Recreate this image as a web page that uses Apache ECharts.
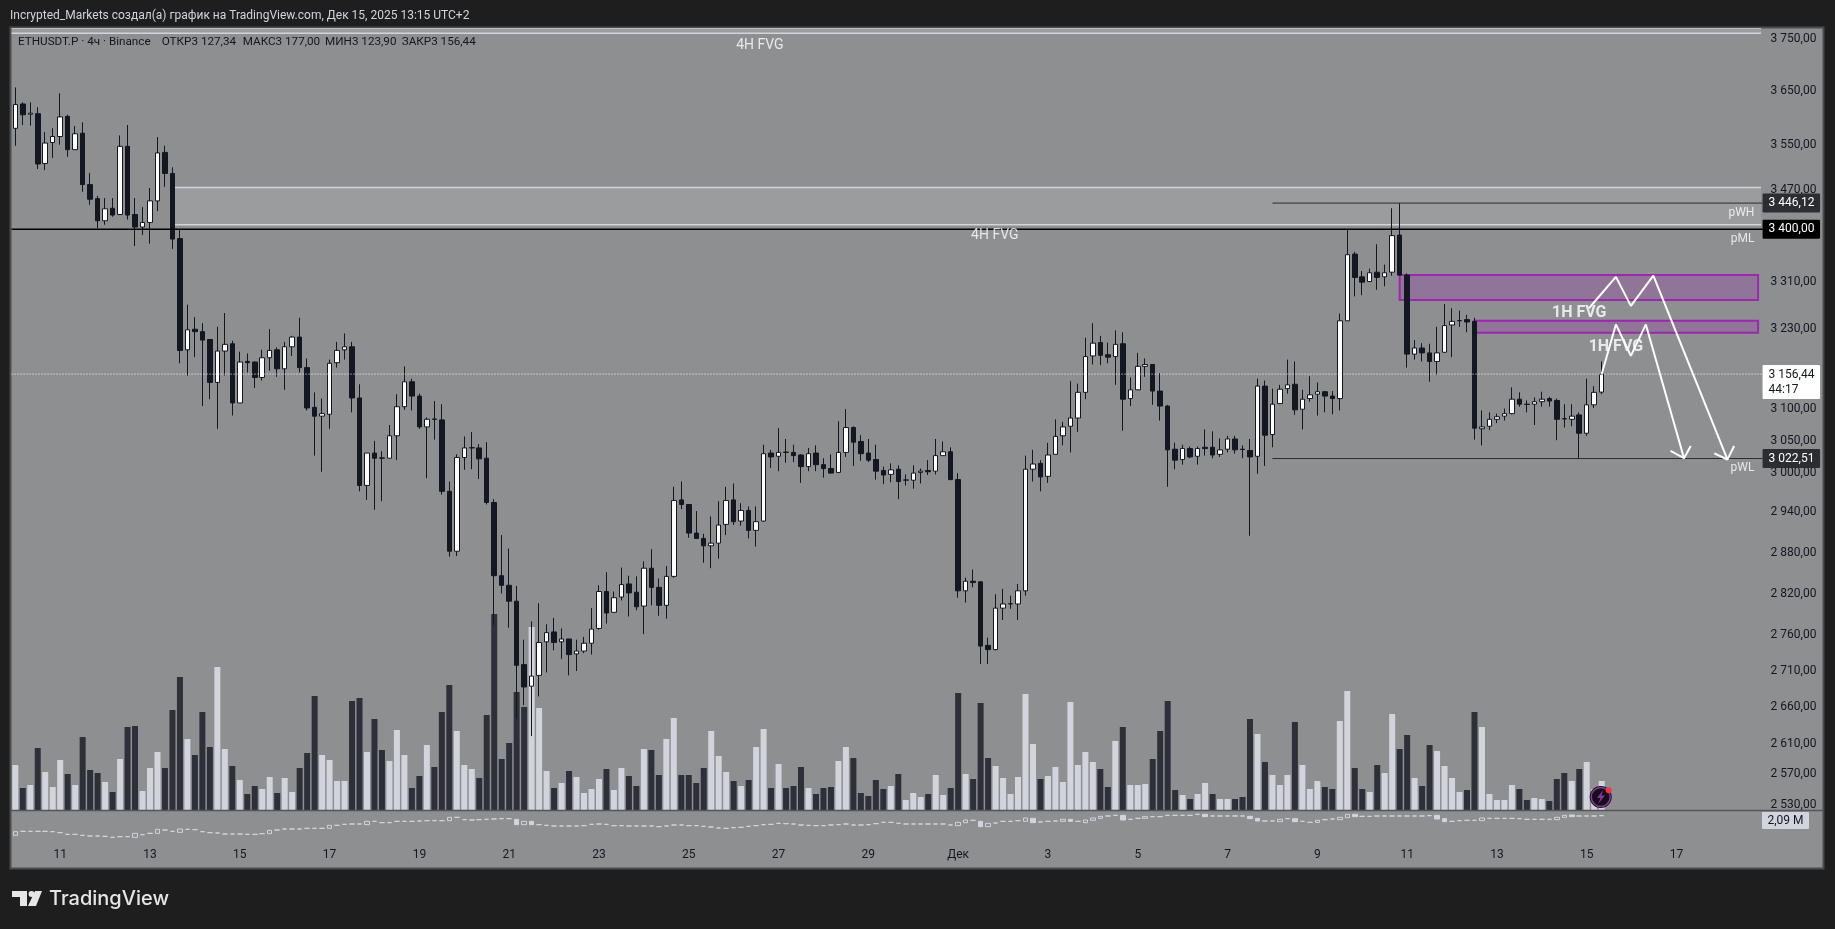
<!DOCTYPE html>
<html><head><meta charset="utf-8">
<style>html,body{margin:0;padding:0;background:#1e1e1e}#c{width:1835px;height:929px}</style>
<script src="https://cdn.jsdelivr.net/npm/echarts@6/dist/echarts.min.js"></script>
</head><body><div id="c"></div>
<script>
// [open, close, low, high]
const ohlc = [
[3581,3625,3549,3657],[3626,3606,3587,3629],[3607,3609,3586,3629],[3608,3516,3507,3620],[3517,3554,3505,3574],
[3555,3566,3527,3581],[3566,3602,3551,3646],[3603,3542,3529,3606],[3542,3571,3542,3585],[3572,3479,3466,3592],
[3479,3453,3443,3500],[3454,3415,3402,3459],[3415,3436,3408,3455],[3437,3425,3422,3455],[3426,3548,3425,3568],
[3548,3425,3417,3587],[3426,3404,3371,3455],[3404,3412,3390,3439],[3412,3450,3375,3473],[3450,3536,3432,3565],
[3537,3499,3475,3549],[3499,3383,3366,3510],[3384,3195,3174,3399],[3196,3229,3154,3271],[3230,3226,3184,3250],
[3226,3212,3105,3240],[3213,3143,3116,3213],[3143,3194,3069,3234],[3194,3205,3154,3257],[3206,3110,3090,3211],
[3110,3176,3110,3193],[3177,3175,3159,3190],[3176,3151,3134,3177],[3151,3183,3146,3196],[3183,3195,3162,3230],
[3196,3165,3152,3200],[3165,3201,3131,3209],[3201,3217,3186,3219],[3217,3167,3159,3249],[3167,3102,3098,3182],
[3103,3089,3027,3127],[3089,3093,3002,3117],[3092,3174,3069,3180],[3175,3195,3167,3209],[3196,3201,3180,3223],
[3201,3118,3095,3209],[3118,2981,2972,3140],[2981,3031,2959,3031],[3031,3023,2944,3050],[3023.5,3023,2957,3034],
[3023,3058,3023,3075],[3058,3104,3020,3124],[3104,3144,3099,3169],[3144,3121,3098,3149],[3121,3072,3069,3125],
[3072,3084,2992,3087],[3084.5,3084,3052,3113],[3083,2972,2967,3108],[2972,2882,2874,2987],[2882,3024,2875,3029],
[3024,3039,3005,3057],[3039,3039.5,3006,3064],[3039,3022,2991,3045],[3023,2955,2952,3048],[2955,2846,2775,2960],
[2846,2832,2820,2906],[2832,2809,2771,2886],[2809,2718,2644,2831],[2719,2688,2663,2754],[2689,2703,2621,2780],
[2704,2750,2675,2806],[2751,2764,2708,2776],[2765,2750,2739,2785],[2751,2755,2727,2770],[2755,2733,2704,2755],
[2734,2738,2710,2754],[2738,2749,2735,2758],[2749,2769,2733,2799],[2770,2823,2768,2832],[2823,2792,2777,2851],
[2793,2814,2793,2823],[2815,2833,2810,2858],[2834,2821,2787,2846],[2822,2801,2796,2845],[2802,2857,2762,2867],
[2857,2829,2803,2885],[2829,2803,2788,2842],[2803,2845,2784,2860],[2845,2958,2843,2979],[2959,2952,2945,2987],
[2952,2909,2902,2952],[2909,2901,2901,2942],[2901,2890,2865,2908],[2890,2894,2857,2934],[2894,2921,2871,2957],
[2922,2958,2906,2979],[2959,2926,2921,2984],[2927,2943,2920,2954],[2943,2913,2901,2949],[2913,2926,2889,2949],
[2927,3030,2926,3044],[3031,3025,3008,3036],[3026,3032,3003,3070],[3032.5,3032,3016,3053],[3032,3027,3017,3044],
[3028,3010,2985,3029],[3010,3030,3003,3039],[3031,3013,3003,3043],[3013,3007,2993,3023],[3007,3000,2999,3029],
[3001,3032,3000,3081],[3032,3071,3025,3100],[3071,3048,3011,3073],[3049,3030,3019,3059],[3031,3020,3017,3053],
[3021,3003,2990,3044],[3004,2997,2983,3010],[2998,3005,2986,3015],[3006,2987,2960,3012],[2989,2989.5,2981,2998],
[2989,3000,2976,3012],[3001,3003,2984,3007],[3004,3002,2997,3020],[3003,3027,2998,3053],[3027,3033,3027,3049],
[3033,2990,2989,3040],[2990,2824,2814,3000],[2824,2838,2807,2843],[2838,2836,2829,2855],[2837,2745,2720,2838],
[2746,2740,2720,2757],[2740,2799,2739,2819],[2799,2805,2782,2827],[2805,2805.5,2798,2817],[2805,2824,2782,2834],
[2824,3006,2817,3027],[3006,3014,2987,3036],[3015,2994,2972,3020],[2995,3028,2985,3047],[3029,3057,3029,3084],
[3058,3072,3043,3080],[3073,3086,3032,3145],[3086,3127,3064,3141],[3127,3185,3116,3216],[3186,3207,3172,3240],
[3208,3187,3171,3219],[3188,3184,3174,3208],[3185,3205,3139,3228],[3206,3116,3066,3225],[3117,3131,3105,3151],
[3131,3169,3131,3191],[3169,3172,3152,3182],[3172,3129,3107,3172],[3129,3105,3082,3158],[3105,3036,2979,3107],
[3037,3020,3006,3047],[3021,3038,3013,3044],[3038,3025,3023,3041],[3026,3038,3013,3041],[3040,3038,3027,3068],
[3040,3028,3023,3065],[3029,3036,3025,3054],[3037,3053,3032,3058],[3053,3036,3030,3058],[3037,3036.5,3023,3043],
[3035,3025,2905,3053],[3026,3137,2999,3149],[3137,3059,3011,3146],[3060,3108,3040,3133],[3109,3132,3109,3139],
[3133,3139,3125,3180],[3140,3099,3091,3177],[3100,3116,3068,3131],[3117,3123,3112,3153],[3124,3128,3090,3143],
[3128,3121,3095,3129],[3121,3117,3092,3129],[3117,3244,3098,3256],[3244,3356,3244,3399],[3357,3317,3285,3361],
[3318,3309,3287,3328],[3310,3325,3310,3332],[3326,3317,3296,3374],[3318,3325,3302,3339],[3326,3389,3320,3437],
[3390,3321,3320,3446.12],[3321,3189,3167,3324],[3189,3199,3180,3212],[3199,3191,3177,3207],[3191,3177,3144,3206],
[3177,3191,3155,3234],[3192,3236,3191,3272],[3237,3243,3184,3265],[3244,3244.5,3234,3261],[3246,3242,3225,3254],
[3243,3070,3052,3249],[3069,3072,3043,3098],[3073,3084,3067,3095],[3084,3088,3078,3093],[3089,3093,3082,3101],
[3093,3116,3092,3135],[3116,3108,3104,3127],[3108,3107.5,3095,3114],[3108,3112,3075,3119],[3112,3116,3104,3128],
[3117,3113,3104,3120],[3114,3084,3051,3117],[3085,3084.5,3071,3108],[3084,3089,3073,3108],[3091,3062,3022.51,3095],
[3062,3107,3058,3149],[3107,3127,3102,3137],[3127.34,3156.44,3123.9,3177]
];
const volumes = [
1.35,.66,.75,1.86,1.14,.69,1.50,1.08,.75,2.19,1.20,1.11,.84,.54,1.53,2.49,2.52,.57,1.26,1.74,
1.26,3.00,3.99,2.13,1.65,2.94,1.89,4.29,1.83,1.32,.90,.48,.72,.63,.99,.51,.96,.54,1.26,1.71,
3.42,1.65,1.50,.87,.87,3.27,3.36,1.74,2.73,1.80,1.47,2.40,1.65,.66,1.02,1.95,1.29,2.94,3.75,2.37,
1.35,1.23,.96,2.85,5.88,1.53,2.01,3.54,3.09,5.49,3.06,1.17,.66,.81,1.17,.99,.51,.63,.93,1.23,
.60,1.26,1.02,.72,1.83,1.80,1.05,2.13,2.76,1.05,1.05,.81,1.26,2.37,1.62,1.14,.87,.72,.90,1.89,
2.43,.66,1.38,.66,.72,1.29,.66,.48,.66,.69,1.47,1.89,1.56,.51,.42,.90,.63,.72,1.08,.30,
.51,.39,.48,1.05,.45,.66,3.51,1.08,.93,3.21,1.56,1.32,.96,.48,.99,3.48,1.98,.93,1.02,1.29,
.84,3.24,1.35,1.74,1.44,1.23,.69,2.07,2.49,.75,.75,.78,1.53,2.37,3.27,.60,.45,.33,.48,.81,
.48,.33,.33,.33,.39,2.73,2.28,1.44,1.05,.75,1.05,2.64,1.35,.63,.87,.69,.63,2.67,3.57,1.26,
.63,.54,1.35,1.11,2.88,1.83,2.25,.96,.72,1.95,1.77,1.32,.96,.54,.60,2.94,2.49,.48,.30,.30,
.75,.63,.30,.36,.33,.27,.93,1.11,.87,1.23,1.44,.63,.87
];
const volLightExceptions = [159];
// lower pane, values in millions
const cvdClose = [
1.61,1.62,1.62,1.62,1.62,1.61,1.58,1.53,1.53,1.50,1.48,1.48,1.47,1.44,1.46,1.46,1.56,1.52,1.56,1.68,
1.66,1.62,1.69,1.68,1.67,1.61,1.58,1.57,1.54,1.54,1.54,1.53,1.53,1.55,1.65,1.66,1.69,1.69,1.69,1.71,
1.71,1.71,1.80,1.80,1.83,1.84,1.84,1.92,1.92,1.88,1.88,1.92,1.92,1.92,1.93,1.94,1.94,1.94,2.04,2.04,
1.97,1.96,1.97,1.98,1.99,2.00,2.00,1.82,1.92,1.82,1.82,1.80,1.78,1.78,1.78,1.78,1.79,1.83,1.84,1.83,
1.79,1.79,1.78,1.78,1.78,1.78,1.76,1.78,1.81,1.81,1.79,1.79,1.77,1.75,1.72,1.71,1.73,1.74,1.77,1.79,
1.82,1.83,1.86,1.85,1.84,1.81,1.80,1.79,1.79,1.81,1.82,1.84,1.81,1.81,1.82,1.85,1.89,1.89,1.86,1.84,
1.84,1.84,1.84,1.84,1.84,1.81,1.89,1.96,1.95,1.76,1.86,1.87,1.92,1.92,1.94,2.02,1.88,1.90,1.92,1.93,
1.98,1.92,1.92,1.96,2.02,2.07,2.08,2.10,1.96,1.98,2.01,2.06,2.06,2.06,2.10,2.10,2.10,2.10,2.13,2.06,
2.08,2.08,2.08,2.08,2.08,2.00,1.93,1.93,1.93,1.98,2.00,1.91,1.92,1.89,1.95,1.97,1.99,2.04,2.13,2.06,
2.07,2.07,2.08,2.08,2.08,2.08,2.08,2.08,2.08,2.09,1.99,1.91,1.92,1.94,1.95,1.95,2.02,2.01,2.01,2.01,
2.01,2.00,1.98,1.98,1.98,1.98,2.04,2.10,2.06,2.08,2.08,2.08,2.09
];
// bars of the lower pane with a visible body: [bar, open]
const cvdBodies = [[0,1.50],[16,1.44],[19,1.56],[22,1.59],[34,1.55],[42,1.71],[47,1.82],[58,1.94],[67,1.98],[68,1.82],[69,1.92],
[126,1.79],[127,1.88],[129,1.92],[130,1.76],[135,1.92],[136,2.01],[140,1.92],[141,1.98],[143,1.88],[144,1.95],[145,2.01],[148,2.10],[151,2.01],[159,2.13],
[165,2.07],[166,2.01],[169,1.91],[171,2.00],[174,1.89],[177,1.97],[178,2.03],[179,2.13],[190,2.10],[191,2.00],[196,1.94],[206,1.97],[207,2.04],[208,2.11]];
const priceTicks = [3750,3650,3550,3470,3310,3230,3100,3050,3000,2940,2880,2820,2760,2710,2660,2610,2570,2530];
const dayLabels = ['11','13','15','17','19','21','23','25','27','29','Дек','3','5','7','9','11','13','15','17'];
const SLOTS = 234, LEFT = 11.56, WIDTH = 1751.02, PRICE_MIN = 2523.4, PRICE_MAX = 3770.3;
// zones: [fromBar, toBar, lowPrice, highPrice]
const greyZones = [[-0.5,233.3,3760,3770.3],[21,233.3,3408,3474]];
const purpleZones = [[185,232.9,3279,3321],[195,232.9,3224,3244]];
// horizontal levels: [fromBar, price]
const blackLevel = [-0.5,3400], highLevel = [168,3446.12], lowLevel = [168,3022.51], lastLevel = [-0.5,3156.44];
// drawn arrows: [bar, price]
const arrowA = [[210.3,3265],[213.9,3318],[215.9,3269],[218.9,3320],[228.8,3021]];
const arrowAHead = [[227.05,3030.5],[228.8,3021],[229.7,3042]];
const arrowB = [[212,3156.44],[213.9,3238],[215.9,3186],[217.9,3238],[223,3023]];
const arrowBHead = [[221.2,3034.5],[223,3023],[223.9,3042]];
// notes: [text, bar, price]
const boldNotes = [['1H FVG',209,3257],['1H FVG',213.9,3201]];
const fvgNotes = [['4H FVG',99.5,3737],['4H FVG',130.9,3390]];
const levelNotes = [['pWH',232.4,3428],['pML',232.4,3383],['pWL',232.4,3008]];
// header: [text, left edge]
const headerParts = [['ETHUSDT.P · 4ч · Binance',18],['ОТКР3 127,34',161.7],['МАКС3 177,00',242.7],['МИН3 123,90',325],['ЗАКР3 156,44',401.7]];

const FONT='Roboto', INK='#131722', LIGHT='#d1d4dc', PANE='#8e8f91';
const fmt = v => { const s=v.toFixed(2); return s[0]+' '+s.slice(1,4)+','+s.slice(5); };
const categories = ohlc.map((_,i)=>i);
for(let i=ohlc.length;i<SLOTS;i++) categories.push(i);
const catLabels = categories.map(i=> (i-6)%12===0 && i>=6 ? dayLabels[(i-6)/12] : '');
const bodyOpen = new Map(cvdBodies);
const cvd = cvdClose.map((c,i)=>{const o=bodyOpen.has(i)?bodyOpen.get(i):c;return [o,c,Math.min(o,c),Math.max(o,c)];});
const volData = volumes.map((v,i)=>({value:v,itemStyle:{color:(ohlc[i][1]>=ohlc[i][0]||volLightExceptions.includes(i))?LIGHT:'#2e3039'}}));

function zoneSeries(name,rows,fill,stroke,sides){
  return {type:'custom',name,xAxisIndex:1,yAxisIndex:0,z:1,silent:true,clip:true,data:rows,encode:{x:[0,1],y:[2,3]},
    renderItem(p,api){
      const a=api.coord([api.value(0),api.value(3)]), b=api.coord([api.value(1),api.value(2)]);
      const w=b[0]-a[0], h=b[1]-a[1], kids=[];
      kids.push({type:'rect',shape:{x:a[0],y:a[1],width:w,height:h},style:{fill,stroke:sides?stroke:null,lineWidth:2}});
      if(!sides){
        kids.push({type:'line',shape:{x1:a[0],y1:a[1],x2:b[0],y2:a[1]},style:{stroke,lineWidth:1.5}});
        kids.push({type:'line',shape:{x1:a[0],y1:b[1],x2:b[0],y2:b[1]},style:{stroke,lineWidth:1.5}});
      }
      return {type:'group',children:kids};
    }};
}
function levelSeries(name,lev,color,width,type,tagBg,tagColor,text,extra){
  const s={type:'line',name,xAxisIndex:1,yAxisIndex:0,z:5,silent:true,symbol:'none',data:[[lev[0],lev[1]],[233.5,lev[1]]],
    lineStyle:{color,width,type}};
  if(text) s.endLabel=Object.assign({show:true,formatter:text,distance:0,backgroundColor:tagBg,color:tagColor,fontFamily:FONT,fontSize:12,
    padding:[2,6,2,6],width:45.5,lineHeight:15,borderRadius:1,align:'left'},extra||{});
  return s;
}
function pathSeries(name,pts){
  return {type:'line',name,xAxisIndex:1,yAxisIndex:0,z:6,silent:true,symbol:'none',data:pts,lineStyle:{color:'#ffffff',width:2}};
}
function noteSeries(name,rows,fontSize,fontWeight,align,z){
  return {type:'scatter',name,xAxisIndex:1,yAxisIndex:0,z,silent:true,symbolSize:0,clip:false,
    data:rows.map(r=>({value:[r[1],r[2]],label:{formatter:r[0]}})),
    label:{show:true,position:'inside',color:'#ffffff',fontFamily:FONT,fontSize,fontWeight,align,verticalAlign:'middle'}};
}

const chart=echarts.init(document.getElementById('c'),null,{renderer:'canvas'});
chart.setOption({
  animation:false,backgroundColor:'#1e1e1e',
  grid:[{left:LEFT,width:WIDTH,top:28,height:782},{left:LEFT,width:WIDTH,top:810,height:32}],
  xAxis:[
    {type:'category',gridIndex:0,data:categories,show:false},
    {type:'value',gridIndex:0,min:-0.5,max:233.5,show:false},
    {type:'category',gridIndex:1,data:categories,axisLine:{show:false},axisTick:{show:false},splitLine:{show:false},
      axisLabel:{interval:i=>catLabels[i]!=='',formatter:(v,i)=>catLabels[i],color:INK,fontFamily:FONT,fontSize:12,margin:7,hideOverlap:false}}
  ],
  yAxis:[
    {type:'log',gridIndex:0,min:PRICE_MIN,max:PRICE_MAX,position:'right',axisLine:{show:false},axisTick:{show:false},splitLine:{show:false},minorTick:{show:false},
      axisLabel:{customValues:priceTicks,formatter:v=>fmt(+v),color:INK,fontFamily:FONT,fontSize:12,margin:8,showMinLabel:true,showMaxLabel:true}},
    {type:'value',gridIndex:0,min:0,max:23.46,show:false},
    {type:'value',gridIndex:1,min:1.30,max:2.26,show:false}
  ],
  graphic:[
    {type:'rect',z:-100,silent:true,shape:{x:10.5,y:27.5,width:1813,height:841},style:{fill:PANE,stroke:'#4b4c4e',lineWidth:2}},
    {type:'line',z:20,silent:true,shape:{x1:11,y1:810.5,x2:1823,y2:810.5},style:{stroke:'#55565c',lineWidth:1.5}},
    {type:'text',z:30,silent:true,x:10,y:16,style:{text:'Incrypted_Markets создал(а) график на TradingView.com, Дек 15, 2025 13:15 UTC+2',fill:LIGHT,font:'12px '+FONT,textVerticalAlign:'middle'}},
    ...headerParts.map(h=>({type:'text',z:30,silent:true,x:h[1],y:42,style:{text:h[0],fill:INK,font:'11.7px '+FONT,textVerticalAlign:'middle'}})),
    {type:'rect',z:30,silent:true,shape:{x:1762,y:812,width:47,height:17,r:1},style:{fill:LIGHT}},
    {type:'text',z:31,silent:true,x:1785.5,y:820.5,style:{text:'2,09 М',fill:INK,font:'12px '+FONT,textAlign:'center',textVerticalAlign:'middle'}},
    {type:'circle',z:30,silent:true,shape:{cx:1600.7,cy:797,r:11},style:{fill:'#0f0f12'}},
    {type:'circle',z:31,silent:true,shape:{cx:1600.7,cy:797,r:9.5},style:{fill:'#111116',stroke:'#8e2fa6',lineWidth:1.6}},
    {type:'polygon',z:32,silent:true,shape:{points:[[1603,790],[1597,798],[1600.5,798],[1598,804],[1605,795.5],[1601.5,795.5]]},style:{fill:'#8e2fa6'}},
    {type:'circle',z:33,silent:true,shape:{cx:1608.7,cy:790.3,r:3},style:{fill:'#f23645'}},
    {type:'polygon',z:30,silent:true,shape:{points:[[12,891],[27,891],[27,906],[20,906],[20,897],[12,897]]},style:{fill:'#e6e6e6'}},
    {type:'circle',z:30,silent:true,shape:{cx:31.5,cy:894,r:3},style:{fill:'#e6e6e6'}},
    {type:'polygon',z:30,silent:true,shape:{points:[[35,891],[42,891],[36,906],[28,906]]},style:{fill:'#e6e6e6'}},
    {type:'text',z:30,silent:true,x:49,y:899,style:{text:'TradingView',fill:'#e6e6e6',font:'500 20px Inter',textVerticalAlign:'middle'}}
  ],
  series:[
    zoneSeries('gray zones',greyZones,'rgba(255,255,255,0.12)',LIGHT,false),
    zoneSeries('purple zones',purpleZones,'rgba(156,39,176,0.25)','#9c27b0',true),
    {type:'bar',name:'Volume',xAxisIndex:0,yAxisIndex:1,z:2,silent:true,barWidth:6,data:volData},
    {type:'candlestick',name:'ETHUSDT.P',xAxisIndex:0,yAxisIndex:0,z:4,silent:true,barWidth:5,data:ohlc,
      itemStyle:{color:'#ffffff',color0:INK,borderColor:INK,borderColor0:INK,borderWidth:1}},
    {type:'candlestick',name:'Lower pane',xAxisIndex:2,yAxisIndex:2,z:3,silent:true,barWidth:5,data:cvd,
      itemStyle:{color:PANE,color0:LIGHT,borderColor:LIGHT,borderColor0:LIGHT,borderWidth:1}},
    levelSeries('3400',blackLevel,'#000000',1.5,'solid','#000000','#ffffff',()=>fmt(blackLevel[1])),
    levelSeries('pWH',highLevel,'#2b2d33',1,'solid','#2b2d33','#ffffff',()=>fmt(highLevel[1])),
    levelSeries('pWL',lowLevel,'#2b2d33',1,'solid','#2b2d33','#ffffff',()=>fmt(lowLevel[1])),
    levelSeries('last',lastLevel,'#ffffff',1,[1,2],'#ffffff',INK,()=>fmt(lastLevel[1])+'\n44:17',{offset:[0,8]}),
    pathSeries('arrow A',arrowA),pathSeries('arrow A head',arrowAHead),
    pathSeries('arrow B',arrowB),pathSeries('arrow B head',arrowBHead),
    noteSeries('1H notes',boldNotes,16,'bold','center',7),
    noteSeries('4H notes',fvgNotes,14,'normal','center',7),
    noteSeries('level notes',levelNotes,12,'normal','right',7)
  ]
});
</script></body></html>
